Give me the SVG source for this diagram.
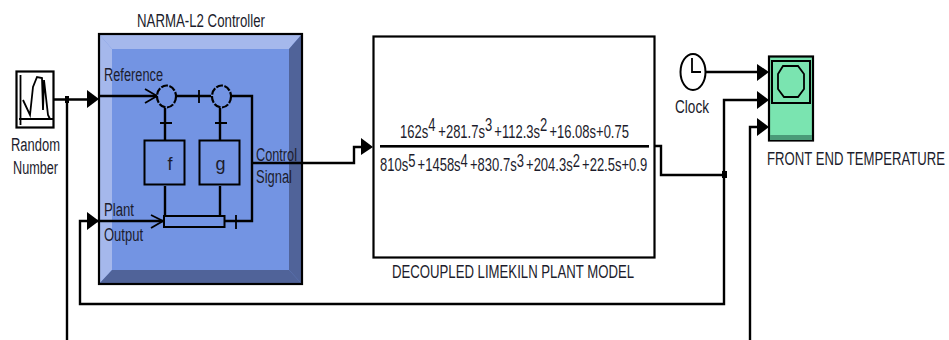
<svg xmlns="http://www.w3.org/2000/svg" width="949" height="340" viewBox="0 0 949 340">
<style>
text{font-family:"Liberation Sans",Arial,sans-serif;fill:#1c1c2c;font-size:18px}
.c{fill:none;stroke:#000;stroke-width:2.4}
.t{fill:none;stroke:#000;stroke-width:1.8}
.b{fill:none;stroke:#000;stroke-width:2}
.a{fill:#000;stroke:none}
.s{fill:#7394e3;stroke:#000;stroke-width:2.2;stroke-dasharray:7 1.500}
</style>
<rect width="949" height="340" fill="#fff"/>
<g id="random-number">
<rect x="16.500" y="71.500" width="37" height="56" fill="#fff" stroke="#000" stroke-width="2.200"/>
<path class="t" d="M20.500 75V125M19 119H53M23 100L30 115L33 87L37 77L42 78L43 110L44 80L48 115L50 119"/>
<text x="11" y="151" textLength="49" lengthAdjust="spacingAndGlyphs">Random</text>
<text x="13" y="174" textLength="45" lengthAdjust="spacingAndGlyphs">Number</text>
</g>
<g id="narma-controller">
<text x="137" y="27" textLength="128" lengthAdjust="spacingAndGlyphs">NARMA-L2 Controller</text>
<rect x="99" y="34" width="203" height="250" fill="#7394e3"/>
<polygon points="99,34 302,34 289,49 112,49" fill="#a5b8ec"/>
<polygon points="99,34 112,49 112,270 99,284" fill="#a5b8ec"/>
<polygon points="302,34 302,284 289,270 289,49" fill="#506399"/>
<polygon points="99,284 302,284 289,270 112,270" fill="#506399"/>
<rect x="99" y="34" width="203" height="250" fill="none" stroke="#000" stroke-width="2.200"/>
<text x="104" y="81" textLength="59" lengthAdjust="spacingAndGlyphs">Reference</text>
<text x="256" y="161" textLength="41" lengthAdjust="spacingAndGlyphs">Control</text>
<text x="256" y="183" textLength="36" lengthAdjust="spacingAndGlyphs">Signal</text>
<text x="104" y="216" textLength="30" lengthAdjust="spacingAndGlyphs">Plant</text>
<text x="104" y="241" textLength="39" lengthAdjust="spacingAndGlyphs">Output</text>
<path class="c" d="M99 96H157M176 96H211M230 96H252V221H225M252 163H302M99 221H163M165 108V140M220 108V140M165 186V215M220 186V215"/>
<path class="t" d="M145 89L157 96L145 103M151 215L163 221L151 228M199 90V103M160 123H172M215 123H227M236 215V229"/>
<ellipse cx="166.500" cy="96.500" rx="9.500" ry="11" class="s"/>
<ellipse cx="221.500" cy="96.500" rx="9.500" ry="11" class="s"/>
<rect x="144.500" y="140.500" width="40" height="44" class="b"/>
<rect x="199.500" y="140.500" width="40" height="44" class="b"/>
<rect x="164" y="216" width="60.500" height="11" fill="#7394e3" stroke="#000" stroke-width="2"/>
<text x="167.500" y="170">f</text>
<text x="215.500" y="170">g</text>
</g>
<g id="plant-model">
<rect x="373.500" y="36.500" width="281" height="221" fill="#fff" stroke="#000" stroke-width="2.200"/>
<text transform="translate(400 138) scale(.723 1)">162s<tspan dy="-7">4</tspan><tspan dx="4" dy="7">+281.7s</tspan><tspan dy="-7">3</tspan><tspan dx="3" dy="7">+112.3s</tspan><tspan dy="-7">2</tspan><tspan dx="3" dy="7">+16.08s+0.75</tspan></text>
<rect x="380" y="145" width="269" height="2.600" fill="#000"/>
<text transform="translate(380 171) scale(.723 1)">810s<tspan dy="-4">5</tspan><tspan dx="3" dy="4">+1458s</tspan><tspan dy="-4">4</tspan><tspan dx="3" dy="4">+830.7s</tspan><tspan dy="-4">3</tspan><tspan dx="3" dy="4">+204.3s</tspan><tspan dy="-4">2</tspan><tspan dx="3" dy="4">+22.5s+0.9</tspan></text>
<text x="392" y="278" textLength="242" lengthAdjust="spacingAndGlyphs">DECOUPLED LIMEKILN PLANT MODEL</text>
</g>
<g id="clock">
<ellipse cx="693" cy="72" rx="12.500" ry="18" fill="#fff" stroke="#000" stroke-width="2"/>
<path class="t" d="M692 58V72H701"/>
<text x="675" y="113" textLength="34" lengthAdjust="spacingAndGlyphs">Clock</text>
</g>
<g id="scope">
<rect x="769" y="56.500" width="44" height="84" fill="#7ae4b0" stroke="#000" stroke-width="2.200"/>
<rect x="770" y="135" width="42" height="5" fill="#4a9a78"/>
<rect x="772" y="61" width="38" height="42" fill="none" stroke="#000" stroke-width="2"/>
<polygon points="783,66 798,66 804,74 804,89 798,97 784,97 778,89 778,74" fill="#7ae4b0" stroke="#000" stroke-width="1.800"/>
<text transform="translate(767 165) scale(.73 1)">FRONT END TEMPERATURE</text>
</g>
<g id="connectors">
<path class="c" d="M54 99.500H87M67 99.500V340M99 221H80V304H724V100H757M750 340V127H757"/>
<path class="c" d="M302 163H354V147H362M655 146H661V175H724M706 72H757"/>
<polygon class="a" points="87,90 99,99 87,108"/>
<polygon class="a" points="87,212 99,221 87,230"/>
<polygon class="a" points="361,138 373,147 361,155"/>
<polygon class="a" points="757,64 769,72 757,81"/>
<polygon class="a" points="757,91 769,100 757,109"/>
<polygon class="a" points="757,118 769,127 757,136"/>
<rect x="65" y="96" width="4" height="7" fill="#000"/>
<rect x="722" y="171" width="5" height="7" fill="#000"/>
</g>
</svg>
